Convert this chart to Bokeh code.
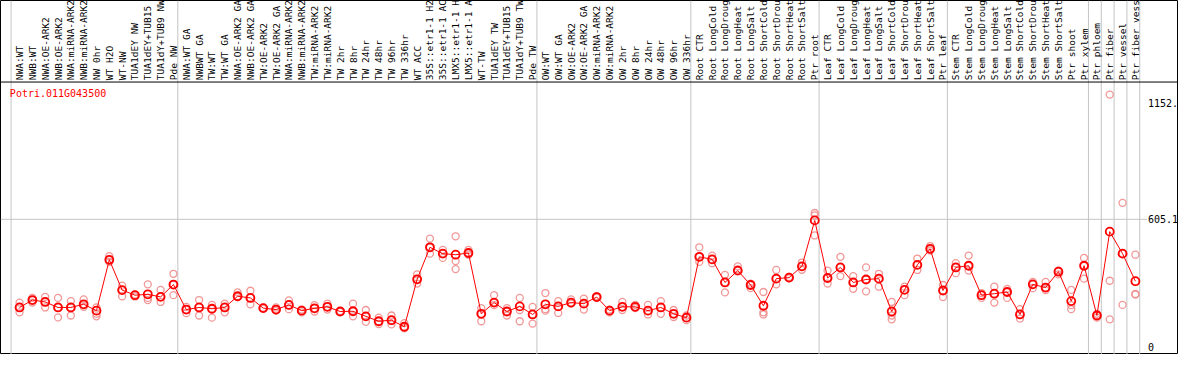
import numpy as np
from bokeh.plotting import figure
from bokeh.models import Range1d, Span
from bokeh.embed import file_html
from bokeh.resources import INLINE
from bokeh.core.properties import value

# ---------------- data ----------------
title = "Potri.011G043500"

labels_g1 = ["NWA:WT", "NWB:WT", "NWA:OE-ARK2", "NWB:OE-ARK2", "NWA:miRNA-ARK2", "NWB:miRNA-ARK2",
             "NW 0hr", "WT H2O", "WT-NW", "TUA1dEY NW", "TUA1dEY+TUB15", "TUA1dY+TUB9 NW", "Pde NW"]
labels_g2 = ["NWA:WT GA", "NWBWT GA", "TW:WT", "TW:WT GA", "NWA:OE-ARK2 GA", "NWB:OE-ARK2 GA",
             "TW:OE-ARK2", "TW:OE-ARK2 GA", "NWA:miRNA-ARK2", "NWB:miRNA-ARK2", "TW:miRNA-ARK2",
             "TW:miRNA-ARK2", "TW 2hr", "TW 8hr", "TW 24hr", "TW 48hr", "TW 96hr", "TW 336hr",
             "WT ACC", "35S::etr1-1 H2", "35S::etr1-1 AC", "LMX5::etr1-1 H", "LMX5::etr1-1 A",
             "WT-TW", "TUA1dEY TW", "TUA1dEY+TUB15", "TUA1dY+TUB9 TW", "Pde TW"]
labels_g3 = ["OW:WT", "OW:WT GA", "OW:OE-ARK2", "OW:OE-ARK2 GA", "OW:miRNA-ARK2", "OW:miRNA-ARK2",
             "OW 2hr", "OW 8hr", "OW 24hr", "OW 48hr", "OW 96hr", "OW 336hr"]
labels_g4 = ["Root CTR", "Root LongCold", "Root LongDroug", "Root LongHeat", "Root LongSalt",
             "Root ShortCold", "Root ShortDrou", "Root ShortHeat", "Root ShortSalt", "Ptr root"]
labels_g5 = ["Leaf CTR", "Leaf LongCold", "Leaf LongDroug", "Leaf LongHeat", "Leaf LongSalt",
             "Leaf ShortCold", "Leaf ShortDrou", "Leaf ShortHeat", "Leaf ShortSalt", "Ptr leaf"]
labels_g6 = ["Stem CTR", "Stem LongCold", "Stem LongDroug", "Stem LongHeat", "Stem LongSalt",
             "Stem ShortCold", "Stem ShortDrou", "Stem ShortHeat", "Stem ShortSalt", "Ptr shoot",
             "Ptr xylem"]
labels_g7 = ["Ptr phloem", "Ptr fiber", "Ptr vessel", "Ptr fiber vess"]

group_sizes = [13, 28, 12, 10, 10, 11, 1, 1, 1, 1]

means_g1 = [189, 224, 215, 189, 189, 204, 174, 414, 271, 247, 251, 239, 297]
means_g2 = [179, 189, 183, 189, 242, 234, 186, 179, 201, 174, 185, 192, 170, 171, 147, 124, 129, 98,
            322, 473, 443, 438, 446, 159, 212, 170, 194, 156]
means_g3 = [204, 194, 212, 207, 238, 174, 192, 192, 174, 189, 159, 141]
means_g4 = [428, 416, 307, 363, 295, 197, 325, 330, 383, 600]
means_g5 = [328, 378, 307, 321, 325, 170, 272, 390, 466, 269]
means_g6 = [378, 386, 247, 254, 262, 156, 298, 283, 358, 219, 386]
means_g7 = [151, 547, 443, 313]

reps_g1 = [[212, 189, 166], [234, 224, 212], [239, 215, 189], [234, 189, 142], [219, 189, 151],
           [227, 204, 192], [189, 159, 147], [431, 414, 404], [292, 271, 242], [250, 247, 241],
           [298, 234, 224], [272, 239, 215], [348, 297, 247]]
reps_g2 = [[192, 179, 162], [224, 189, 151], [201, 183, 141], [207, 189, 166], [260, 242, 238],
           [268, 234, 204], [188, 186, 184], [189, 179, 174], [222, 201, 181], [179, 174, 166],
           [200, 185, 170], [207, 192, 179], [172, 170, 168], [207, 171, 147], [177, 147, 121],
           [141, 124, 111], [151, 129, 109], [115, 98, 91], [345, 322, 302], [514, 473, 443],
           [461, 443, 423], [525, 408, 370], [461, 446, 438], [186, 159, 124], [247, 212, 200],
           [186, 170, 151], [234, 177, 124], [192, 156, 113]]
reps_g3 = [[257, 181, 174], [219, 194, 163], [227, 212, 207], [231, 207, 179], [242, 238, 236],
           [179, 174, 166], [215, 192, 177], [201, 192, 186], [201, 174, 156], [219, 189, 159],
           [177, 159, 144], [151, 141, 129]]
reps_g4 = [[473, 428, 404], [434, 416, 398], [343, 307, 260], [383, 369, 363], [302, 295, 280],
           [262, 166, 156], [366, 325, 298], [333, 330, 327], [401, 383, 367], [635, 624, 529]]
reps_g5 = [[363, 328, 302], [428, 378, 337], [337, 307, 277], [378, 321, 265], [348, 325, 287],
           [215, 151, 133], [287, 272, 247], [420, 390, 366], [479, 466, 458], [295, 269, 238]]
reps_g6 = [[398, 378, 351], [434, 386, 363], [257, 247, 234], [287, 254, 212], [277, 262, 234],
           [181, 156, 136], [310, 298, 280], [310, 283, 271], [363, 358, 345], [272, 200, 181],
           [423, 386, 325]]
reps_g7 = [[159, 151, 141], [1194, 315, 133], [683, 443, 201], [438, 253, 250]]

y_ticks = [0, 605.1, 1152]
y_tick_labels = ["0", "605.1", "1152."]

# ---------------- assemble ----------------
labels = labels_g1 + labels_g2 + labels_g3 + labels_g4 + labels_g5 + labels_g6 + labels_g7
means = means_g1 + means_g2 + means_g3 + means_g4 + means_g5 + means_g6 + means_g7
reps = reps_g1 + reps_g2 + reps_g3 + reps_g4 + reps_g5 + reps_g6 + reps_g7
n = len(labels)
xi = list(range(n))

rx, ry = [], []
for i, r in enumerate(reps):
    for v in r:
        rx.append(i)
        ry.append(v)

# geometry (reference: column pitch 13px, value scale ~0.2208 px/unit)
PITCH = 13.0
X_FIRST = 19.3
SCALE = 0.2208
Y0PX = 361.7
REF_W, REF_H = 1194, 369
x_lo = -X_FIRST / PITCH
x_hi = (REF_W - X_FIRST) / PITCH
y_lo = (Y0PX - REF_H) / SCALE
y_hi = Y0PX / SCALE
band_y = (Y0PX - 85) / SCALE
label_y = (Y0PX - 83) / SCALE
title_x = (9.5 - X_FIRST) / PITCH
title_y = (Y0PX - 97) / SCALE
ylab_x = (1163 - X_FIRST) / PITCH
grid_end = (1162 - X_FIRST) / PITCH
SEP_OFF = 0.66

seps = [-SEP_OFF]
acc = 0
for g in group_sizes:
    acc += g
    seps.append(acc - SEP_OFF)

W, H = 1178, 354
p = figure(width=W, height=H, x_range=Range1d(x_lo, x_hi), y_range=Range1d(y_lo, y_hi),
           output_backend="svg", toolbar_location=None, min_border=0,
           background_fill_color="white", border_fill_color="white")
p.axis.visible = False
p.xgrid.visible = False
p.ygrid.visible = False
p.outline_line_color = "black"
p.outline_line_width = 1

# separators
p.segment(x0=seps, y0=[y_lo] * len(seps), x1=seps, y1=[y_hi] * len(seps),
          line_color="#c4c4c4", line_width=1)
# horizontal grid line at middle tick
p.segment(x0=[x_lo], y0=[y_ticks[1]], x1=[grid_end], y1=[y_ticks[1]],
          line_color="#c4c4c4", line_width=1)
# label band separator
p.add_layout(Span(location=band_y, dimension="width", line_color="black", line_width=1))

# category labels (vertical)
p.text(x=xi, y=[label_y] * n, text=labels, angle=np.pi / 2,
       text_align="left", text_baseline="middle",
       text_font=value("DejaVu Sans Mono"), text_font_size="9.5px", text_color="black")

# y tick labels
p.text(x=[ylab_x] * len(y_ticks), y=y_ticks, text=y_tick_labels,
       text_align="left", text_baseline="middle",
       text_font=value("DejaVu Sans Mono"), text_font_size="10px", text_color="black")

# title
p.text(x=[title_x], y=[title_y], text=[title], text_align="left", text_baseline="middle",
       text_font=value("DejaVu Sans Mono"), text_font_size="10px", text_color="red")

# replicates
p.scatter(rx, ry, marker="circle", size=7, fill_color=None,
          line_color="#f08c8c", line_width=1.3, line_alpha=0.9)
# mean line and points
p.line(xi, means, line_color="red", line_width=1)
p.scatter(xi, means, marker="circle", size=8, fill_color=None,
          line_color="red", line_width=1.8)

open("out.html", "w").write(file_html(p, INLINE))
